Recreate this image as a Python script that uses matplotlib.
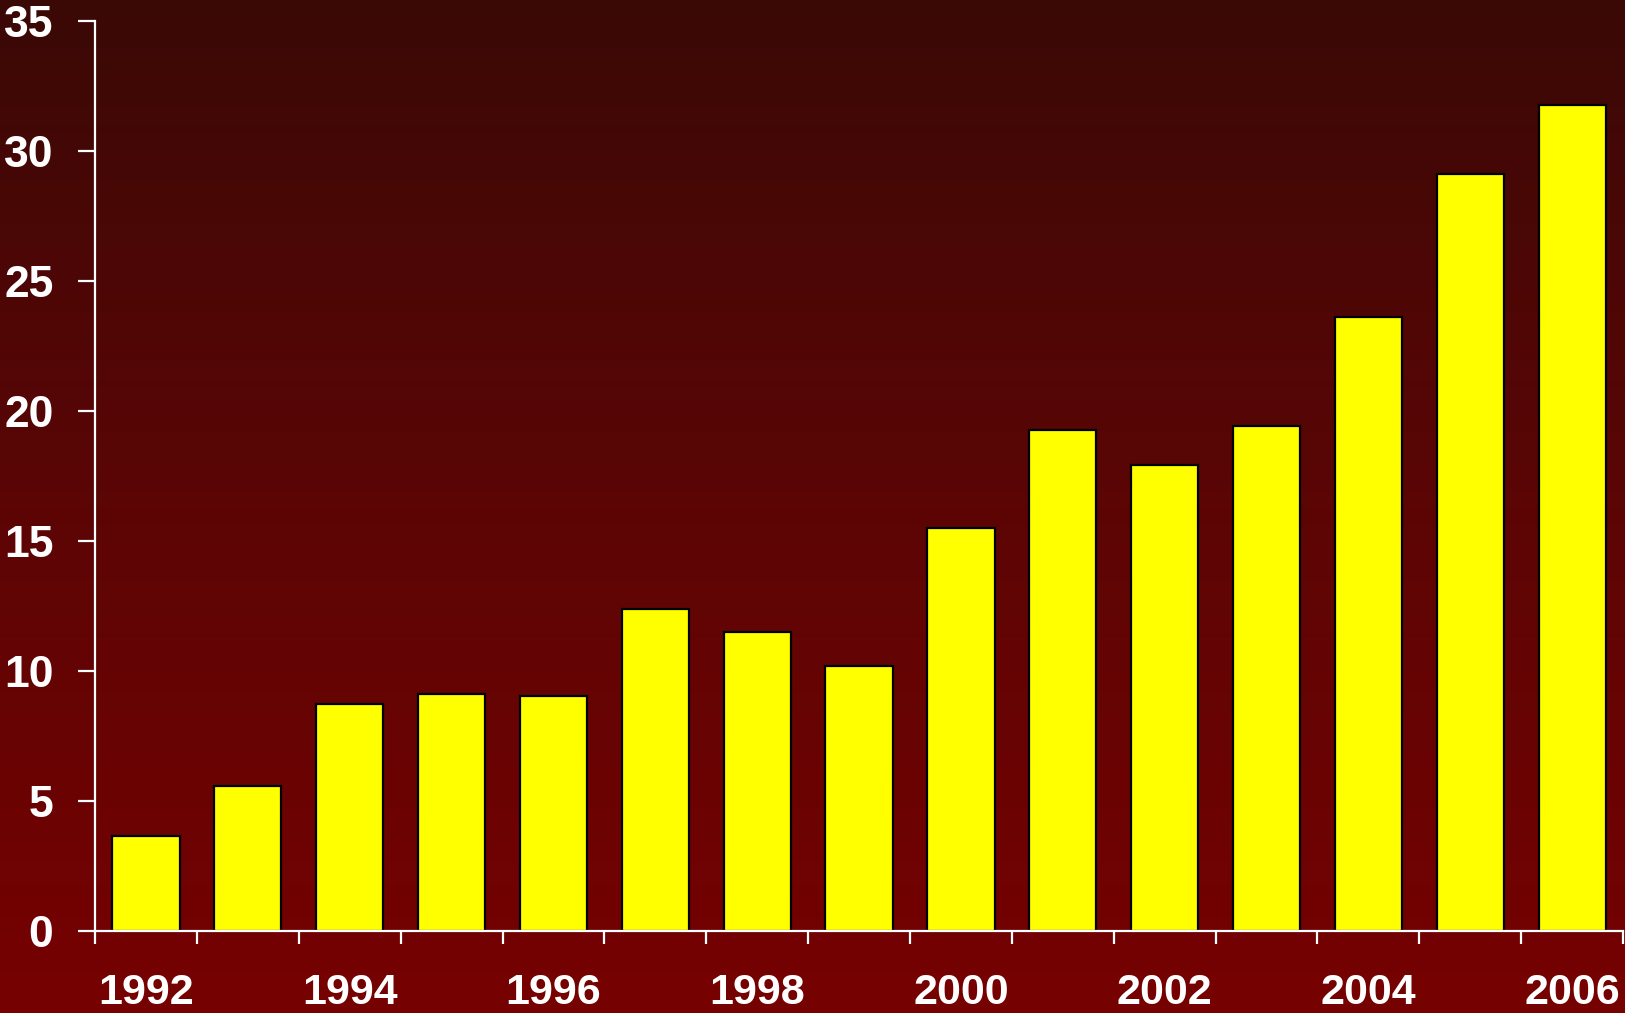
import numpy as np
import matplotlib
matplotlib.use("Agg")
import matplotlib.pyplot as plt
from matplotlib.colors import LinearSegmentedColormap

years = [str(y) for y in range(1992, 2007)]
values = [3.67, 5.58, 8.73, 9.13, 9.05, 12.40, 11.52, 10.20,
          15.50, 19.29, 17.94, 19.41, 23.63, 29.13, 31.77]
year_labels = [y if i % 2 == 0 else '' for i, y in enumerate(years)]
y_ticks = [0, 5, 10, 15, 20, 25, 30, 35]

plt.rcParams['font.family'] = ['Liberation Sans', 'DejaVu Sans']
plt.rcParams['font.weight'] = 'bold'

fig = plt.figure(figsize=(16.25, 10.13), dpi=100)

# background gradient, dark at top, red at bottom
bg = fig.add_axes([0, 0, 1, 1], zorder=0)
cmap = LinearSegmentedColormap.from_list('bg', ['#3a0905', '#5c0505', '#770101'])
grad = np.linspace(0, 1, 256).reshape(-1, 1)
bg.imshow(grad, aspect='auto', cmap=cmap, extent=[0, 1, 0, 1], origin='upper')
bg.axis('off')

ax = fig.add_axes([0.0585, 0.081, 0.9403, 0.898], zorder=1)
ax.patch.set_alpha(0)

x = np.arange(len(years))
ax.bar(x, values, width=0.66, color='#ffff00', edgecolor='black', linewidth=1.6)

ax.set_xlim(-0.5, len(years) - 0.5)
ax.set_ylim(0, 35)

for s in ['top', 'right']:
    ax.spines[s].set_visible(False)
for s in ['left', 'bottom']:
    ax.spines[s].set_color('white')
    ax.spines[s].set_linewidth(1.6)

ax.set_yticks(y_ticks)
ax.tick_params(axis='y', colors='white', length=12, width=1.6, pad=18, labelsize=32)

# ticks between categories, labels centred under bars
ax.set_xticks(np.arange(len(years) + 1) - 0.5)
ax.set_xticklabels([])
ax.tick_params(axis='x', which='major', colors='white', length=9.5, width=1.6)
ax.set_xticks(x, year_labels, minor=True)
ax.tick_params(axis='x', which='minor', length=0, pad=30, labelsize=31, labelcolor='white')

fig.savefig('out.png', dpi=100)
